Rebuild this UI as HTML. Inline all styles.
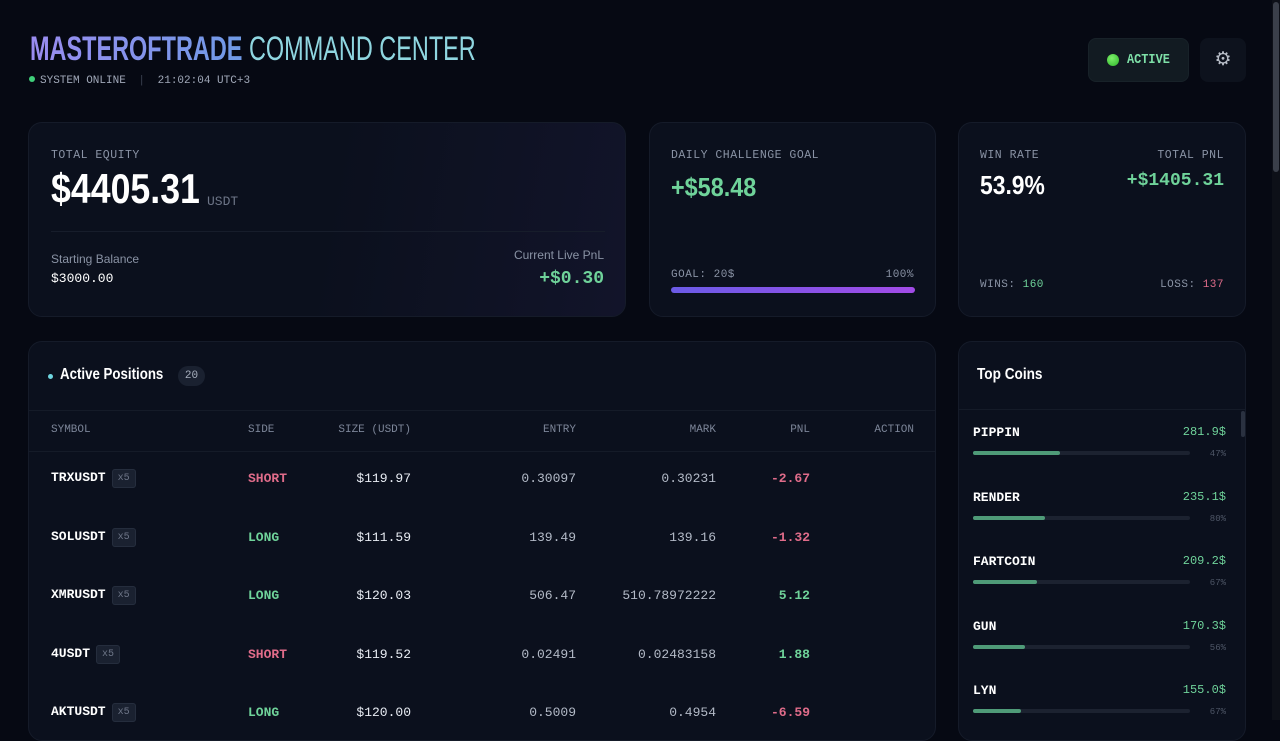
<!DOCTYPE html>
<html><head><meta charset="utf-8">
<style>
*{box-sizing:border-box;margin:0;padding:0}
body{width:1280px;height:720px;overflow:hidden;background:#060913;font-family:"Liberation Sans",sans-serif;color:#e8ecf3;position:relative}
.mono{font-family:"Liberation Mono","DejaVu Sans Mono",monospace}
.abs{position:absolute}
.card{position:absolute;background:#0b101d;border:1px solid #151b29;border-radius:14px}
.lbl{font-family:"Liberation Mono",monospace;font-size:11.5px;color:#8a93a5;letter-spacing:0.5px}
.g{color:#6fd39a}.r{color:#e06c8a}
.th{position:absolute;top:424px;font-family:"Liberation Mono",monospace;font-size:11px;color:#7c8598}
.cell{position:absolute;font-family:"Liberation Mono",monospace;font-size:13px;white-space:nowrap}
.sc{transform:scaleX(0.82);transform-origin:left center;display:inline-block;white-space:nowrap}
</style></head><body>
<div class="abs" style="left:30px;top:30px;font-size:34px;font-weight:bold;">
<span class="sc" style="transform:scaleX(0.69)"><span style="background:linear-gradient(90deg,#9a8cf0,#6f9ae6);-webkit-background-clip:text;color:transparent">MASTEROFTRADE</span> <span style="font-weight:normal;color:#8fd6e0">COMMAND CENTER</span></span></div>
<div class="abs mono" style="left:29px;top:75px;font-size:11px;color:#a0a8b8"><span style="display:inline-block;width:6px;height:6px;border-radius:3px;background:#3fcf7a;margin-right:5px;vertical-align:1px"></span>SYSTEM ONLINE <span style="color:#3a4050;margin:0 6px">|</span> 21:02:04 UTC+3</div>
<div class="abs" style="left:1088px;top:38px;width:101px;height:44px;background:#121b22;border-radius:8px;border:1px solid #182229">
<span class="abs" style="left:18px;top:15px;width:12px;height:12px;border-radius:6px;background:radial-gradient(circle at 40% 35%,#7df06a,#2eb52a)"></span>
<span class="abs mono" style="left:38px;top:13px;font-size:14px;font-weight:bold;color:#7ee0a8"><span class="sc" style="transform:scaleX(0.85)">ACTIVE</span></span></div>
<div class="abs" style="left:1200px;top:38px;width:46px;height:44px;background:#0d121d;border-radius:8px;text-align:center;line-height:44px;font-size:19px;color:#b8bec8">⚙</div>

<div class="card" style="left:28px;top:122px;width:598px;height:195px;background:linear-gradient(100deg,#0b101d 50%,#12142a)">
<div class="abs lbl" style="left:22px;top:26px">TOTAL EQUITY</div>
<div class="abs" style="left:22px;top:42px;font-size:42px;font-weight:bold;color:#fff"><span class="sc" style="transform:scaleX(0.85)">$4405.31</span></div>
<div class="abs mono" style="left:178px;top:71px;font-size:13px;color:#6d7587">USDT</div>
<div class="abs" style="left:22px;top:108px;width:554px;height:1px;background:#171d2b"></div>
<div class="abs" style="left:22px;top:129px;font-size:12px;color:#8a93a5">Starting Balance</div>
<div class="abs mono" style="left:22px;top:148px;font-size:13px;color:#fff">$3000.00</div>
<div class="abs" style="right:21px;top:125px;font-size:12px;color:#8a93a5">Current Live PnL</div>
<div class="abs mono g" style="right:21px;top:146px;font-size:18px;font-weight:bold">+$0.30</div>
</div>

<div class="card" style="left:649px;top:122px;width:287px;height:195px">
<div class="abs lbl" style="left:21px;top:26px">DAILY CHALLENGE GOAL</div>
<div class="abs g" style="left:21px;top:49px;font-size:26px;font-weight:bold"><span class="sc" style="transform:scaleX(0.9)">+$58.48</span></div>
<div class="abs lbl" style="left:21px;top:146px;font-size:11px">GOAL: 20$</div>
<div class="abs lbl" style="right:21px;top:146px;font-size:11px">100%</div>
<div class="abs" style="left:21px;top:164px;width:244px;height:6px;border-radius:3px;background:linear-gradient(90deg,#6b5be6,#a24be6)"></div>
</div>

<div class="card" style="left:958px;top:122px;width:288px;height:195px">
<div class="abs lbl" style="left:21px;top:26px">WIN RATE</div>
<div class="abs" style="left:21px;top:47px;font-size:26px;font-weight:bold;color:#fff"><span class="sc" style="transform:scaleX(0.88)">53.9%</span></div>
<div class="abs lbl" style="right:21px;top:26px">TOTAL PNL</div>
<div class="abs mono g" style="right:21px;top:48px;font-size:18px;font-weight:bold">+$1405.31</div>
<div class="abs lbl" style="left:21px;top:156px;font-size:11px">WINS: <span class="g">160</span></div>
<div class="abs lbl" style="right:21px;top:156px;font-size:11px">LOSS: <span class="r">137</span></div>
</div>

<div class="card" style="left:28px;top:341px;width:908px;height:400px;overflow:hidden">
<span class="abs" style="left:19px;top:32px;width:5px;height:5px;border-radius:3px;background:#6fd6e0"></span>
<div class="abs" style="left:31px;top:24px;font-size:16px;font-weight:bold;color:#fff"><span class="sc" style="transform:scaleX(0.83)">Active Positions</span></div>
<div class="abs mono" style="left:149px;top:24px;width:27px;height:20px;border-radius:10px;background:#1a2130;font-size:11px;color:#a7afbd;text-align:center;line-height:20px">20</div>
<div class="abs" style="left:0;top:68px;width:908px;height:1px;background:#151b28"></div>
<div class="abs" style="left:0;top:109px;width:908px;height:1px;background:#151b28"></div>
</div>
<div id="table"></div>

<div class="card" style="left:958px;top:341px;width:288px;height:400px;overflow:hidden">
<div class="abs" style="left:18px;top:24px;font-size:16px;font-weight:bold;color:#fff"><span class="sc" style="transform:scaleX(0.85)">Top Coins</span></div>
<div class="abs" style="left:0;top:67px;width:288px;height:1px;background:#151b28"></div>
<div class="abs" style="left:282px;top:69px;width:4px;height:26px;border-radius:2px;background:#2a3140"></div>
</div>
<div id="coins"></div>
<div class="abs" style="left:1272px;top:0;width:8px;height:720px;background:#0d1018"><div style="margin:2px 1px;height:170px;border-radius:3px;background:#3a3f4a"></div></div>

<script>
const symbols=["TRXUSDT","SOLUSDT","XMRUSDT","4USDT","AKTUSDT"];
const sides=["SHORT","LONG","LONG","SHORT","LONG"];
const sizes=["$119.97","$111.59","$120.03","$119.52","$120.00"];
const entries=["0.30097","139.49","506.47","0.02491","0.5009"];
const marks=["0.30231","139.16","510.78972222","0.02483158","0.4954"];
const pnls=[-2.67,-1.32,5.12,1.88,-6.59];
const coinNames=["PIPPIN","RENDER","FARTCOIN","GUN","LYN"];
const coinValues=[281.9,235.1,209.2,170.3,155.0];
const coinPcts=[47,80,67,56,67];

const heads=[["SYMBOL",51,"l"],["SIDE",248,"l"],["SIZE (USDT)",411,"r"],["ENTRY",576,"r"],["MARK",716,"r"],["PNL",810,"r"],["ACTION",914,"r"]];
const T=document.getElementById('table');
heads.forEach(h=>{const d=document.createElement('div');d.className='th';


d.textContent=h[0];if(h[2]=='l')d.style.left=h[1]+'px';else d.style.right=(1280-h[1])+'px';T.appendChild(d);});
function cell(txt,x,y,align,style){const d=document.createElement('div');d.className='cell';d.textContent=txt;d.style.top=y+'px';
if(align=='l')d.style.left=x+'px';else d.style.right=(1280-x)+'px';Object.assign(d.style,style||{});T.appendChild(d);return d;}
symbols.forEach((s,i)=>{const y=471+i*58.5;
const a=cell(s,51,y-1,'l',{fontWeight:'bold',color:'#fff'});


const b=document.createElement('span');b.textContent='x5';


Object.assign(b.style,{fontSize:'10px',fontWeight:'normal',color:'#6d7587',background:'#1a2130',border:'1px solid #252d3d',borderRadius:'3px',padding:'3px 5px',marginLeft:'6px',verticalAlign:'1px'});a.appendChild(b);
const sd=cell(sides[i],248,y,'l',{fontWeight:'bold',color:sides[i]=='LONG'?'#6fd39a':'#e06c8a'});


const sz=cell(sizes[i],411,y,'r',{color:'#e8ecf3'});


const en=cell(entries[i],576,y,'r',{color:'#b3bac7'});


const mk=cell(marks[i],716,y,'r',{color:'#b3bac7'});


const p=pnls[i];
const pn=cell(p.toFixed(2),810,y,'r',{fontWeight:'bold',color:p<0?'#e06c8a':'#6fd39a'});


});
const C=document.getElementById('coins');
const trackW=217,scaleMax=705;
coinNames.forEach((n,i)=>{const y=425+i*64.5;
const e=document.createElement('div');e.className='abs mono';e.style.cssText=`left:973px;top:${y}px;font-size:13px;font-weight:bold;color:#fff`;e.textContent=n;


C.appendChild(e);
const v=document.createElement('div');v.className='abs mono';v.style.cssText=`right:54px;top:${y}px;font-size:12px;color:#6fd39a`;v.textContent=coinValues[i].toFixed(1)+'$';


C.appendChild(v);
const t=document.createElement('div');t.className='abs';t.style.cssText=`left:973px;top:${y+26}px;width:${trackW}px;height:4px;border-radius:2px;background:#1c2230`;


C.appendChild(t);
const f=document.createElement('div');f.className='abs';f.style.cssText=`left:973px;top:${y+26}px;width:${coinValues[i]/scaleMax*trackW}px;height:4px;border-radius:2px;background:#4f9b78`;


C.appendChild(f);
const pc=document.createElement('div');pc.className='abs mono';pc.style.cssText=`right:54px;top:${y+24}px;font-size:9px;color:#4e5666`;pc.textContent=coinPcts[i]+'%';


C.appendChild(pc);
});
</script>
</body></html>
